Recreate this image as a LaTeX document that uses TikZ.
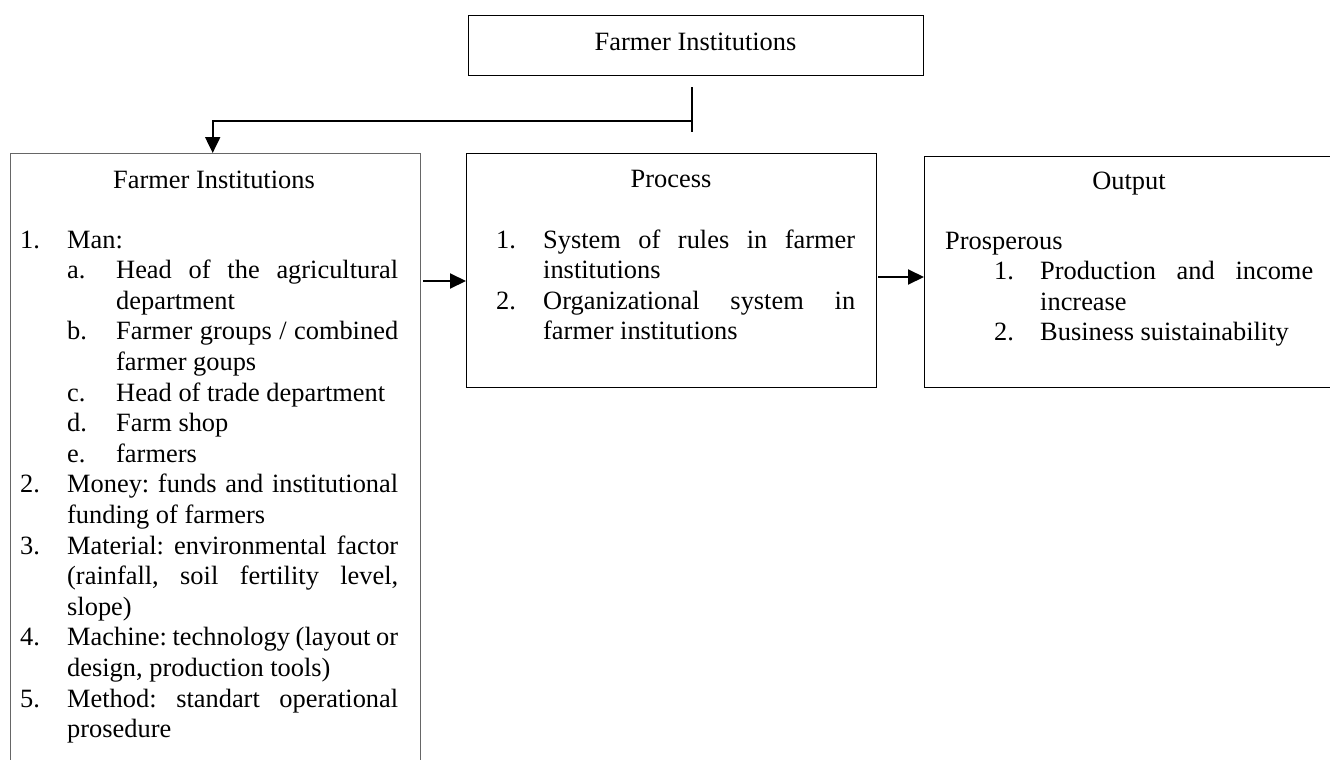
\documentclass[tikz,border=0pt]{standalone}
\usepackage{fontspec}
\setmainfont{Liberation Serif}
\usetikzlibrary{arrows.meta}
\newcommand\NumRow[3]{\hbox{\hbox to #1{#2\hss}#3}}
\frenchspacing
\begin{document}
\frenchspacing
\begin{tikzpicture}[x=1pt,y=-1pt,
  font=\fontsize{26.4pt}{30.6pt}\selectfont\frenchspacing,
  box/.style={draw=black, line width=1.2pt, rectangle, inner sep=0pt, anchor=north west},
  title/.style={anchor=base, inner sep=0pt},
  body/.style={anchor=base west, inner sep=0pt, align=left},
  arr/.style={line width=2pt, -{Triangle[length=16pt,width=15pt]}},
  conn/.style={line width=1.8pt}]
\useasboundingbox (0,0) rectangle (1330,760);
\fill[white] (0,0) rectangle (1330,760);

% boxes
\node[box, minimum width=455pt, minimum height=60pt] (top) at (468,15) {};
\node[box, draw=black!60, line width=1.4pt, minimum width=410pt, minimum height=640pt] (lbox) at (10,153) {};
\node[box, minimum width=410pt, minimum height=234pt] (pbox) at (466,153) {};
\node[box, minimum width=410pt, minimum height=231pt] (obox) at (924,156) {};

% titles
\node[title] (ttop) at (695.5,51) {Farmer Institutions};
\node[title] (tl) at (214,188) {Farmer Institutions};
\node[title] (tp) at (671,187) {Process};
\node[title] (to) at (1129,189) {Output};

% left list
\node[body] (llist) at (20,248) {\vtop{%
\NumRow{47pt}{1.}{Man:}
\hbox{\kern47pt\hbox to 49pt{a.\hss}\makebox[282pt][s]{Head of the agricultural}}
\hbox{\kern96pt department}
\hbox{\kern47pt\hbox to 49pt{b.\hss}\makebox[282pt][s]{Farmer groups / combined}}
\hbox{\kern96pt farmer goups}
\hbox{\kern47pt\hbox to 49pt{c.\hss}Head of trade department}
\hbox{\kern47pt\hbox to 49pt{d.\hss}Farm shop}
\hbox{\kern47pt\hbox to 49pt{e.\hss}farmers}
\NumRow{47pt}{2.}{\makebox[331pt][s]{Money: funds and institutional}}
\hbox{\kern47pt funding of farmers}
\NumRow{47pt}{3.}{\makebox[331pt][s]{Material: environmental factor}}
\hbox{\kern47pt\makebox[331pt][s]{(rainfall, soil fertility level,}}
\hbox{\kern47pt slope)}
\NumRow{47pt}{4.}{\makebox[331pt][s]{Machine: technology (layout or}}
\hbox{\kern47pt design, production tools)}
\NumRow{47pt}{5.}{\makebox[331pt][s]{Method: standart operational}}
\hbox{\kern47pt prosedure}}};

% process list
\node[body] (plist) at (496,248) {\vtop{%
\NumRow{47pt}{1.}{\makebox[312pt][s]{System of rules in farmer}}
\hbox{\kern47pt institutions}
\NumRow{47pt}{2.}{\makebox[312pt][s]{Organizational system in}}
\hbox{\kern47pt farmer institutions}}};

% output list
\node[body] (olist) at (945,249) {\vtop{%
\hbox{Prosperous}
\hbox{\kern49pt\hbox to 46pt{1.\hss}\makebox[273pt][s]{Production and income}}
\hbox{\kern95pt increase}
\hbox{\kern49pt\hbox to 46pt{2.\hss}Business suistainability}}};

% connectors
\coordinate (vt) at (692,87);
\coordinate (vb) at (692,132);
\coordinate (junc) at (692,121);
\draw[conn] (vt) -- (vb);
\draw[arr] (junc) -| ([xshift=-3pt]lbox.north);
\coordinate (a1) at (423,281);
\draw[arr] (a1) -- (a1 -| pbox.west);
\coordinate (a2) at (878,277);
\draw[arr] (a2) -- (a2 -| obox.west);
\end{tikzpicture}
\end{document}
